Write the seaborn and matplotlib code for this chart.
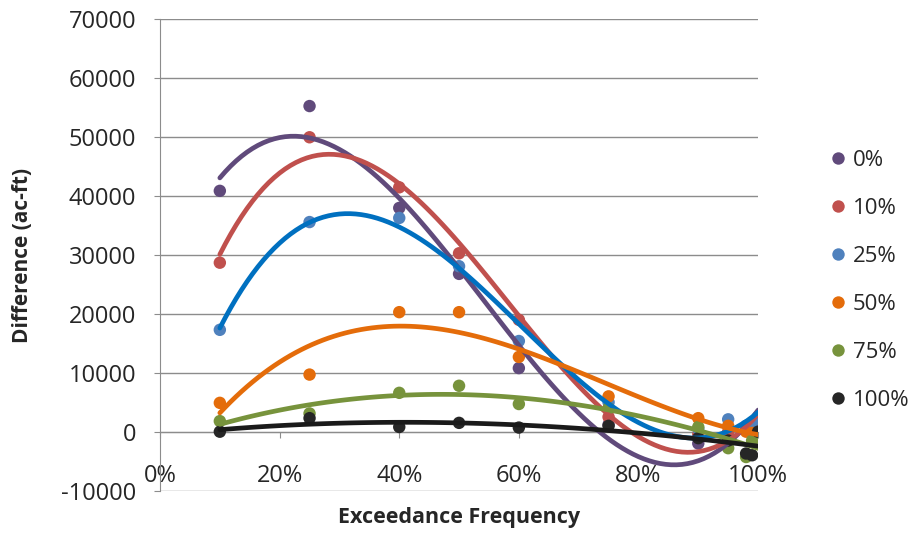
import numpy as np
import pandas as pd
import matplotlib
matplotlib.use("Agg")
import matplotlib.pyplot as plt
import seaborn as sns
from matplotlib.ticker import PercentFormatter, MultipleLocator

# ---- data ----
exceedance = [0.10, 0.25, 0.40, 0.50, 0.60, 0.75, 0.90, 0.95, 0.98, 0.99, 1.00]
series_names = ["0%", "10%", "25%", "50%", "75%", "100%"]
diff_0 = [40900, 55300, 38000, 26800, 10800, 1200, -2000, -1000, 500, 1000, 2500]
diff_10 = [28700, 50000, 41500, 30300, 19000, 2500, -500, 0, 500, 800, 1500]
diff_25 = [17300, 35600, 36300, 28100, 15400, 5000, 500, 2100, 1000, 1500, 2500]
diff_50 = [4900, 9700, 20300, 20300, 12700, 6000, 2300, 1000, 0, -200, -500]
diff_75 = [1800, 3100, 6600, 7800, 4700, 4000, 800, -2800, -4300, -1500, -1000]
diff_100 = [0, 2300, 800, 1500, 700, 1000, -1100, -1500, -3700, -4000, 0]
y_ticks = list(range(-10000, 70001, 10000))

point_colors = ["#604A7B", "#C0504D", "#4F81BD", "#E46C0A", "#77933C", "#262626"]
line_colors = ["#604A7B", "#C0504D", "#0070C0", "#E46C0A", "#77933C", "#1A1A1A"]

all_series = [diff_0, diff_10, diff_25, diff_50, diff_75, diff_100]
df = pd.concat(
    [pd.DataFrame({"x": exceedance, "y": vals, "series": name})
     for name, vals in zip(series_names, all_series)],
    ignore_index=True,
)

sns.set_style("white")
plt.rcParams["font.family"] = ["Open Sans", "DejaVu Sans"]
plt.rcParams["axes.unicode_minus"] = False

fig = plt.figure(figsize=(9.15, 5.34), dpi=100)
ax = fig.add_axes([0.1749, 0.0813, 0.6536, 0.8822])

sns.scatterplot(data=df, x="x", y="y", hue="series", hue_order=series_names,
                palette=point_colors, s=80, edgecolor="none", ax=ax, zorder=3)

for name, lc in zip(series_names, line_colors):
    sub = df[df["series"] == name]
    sns.regplot(data=sub, x="x", y="y", order=3, scatter=False, ci=None,
                truncate=True, color=lc, line_kws=dict(lw=3.4, zorder=4),
                ax=ax)

ax.set_xlim(0, 1.0)
ax.set_ylim(-10000, 70000)
ax.set_yticks(y_ticks)
ax.xaxis.set_major_locator(MultipleLocator(0.2))
ax.xaxis.set_major_formatter(PercentFormatter(1.0, decimals=0))
ax.grid(axis="y", color="#8C8C8C", lw=1.0)
ax.grid(axis="x", visible=False)
ax.set_axisbelow(True)

for side in ["top", "right"]:
    ax.spines[side].set_visible(False)
ax.spines["left"].set_color("#8C8C8C")
ax.spines["bottom"].set_color("#8C8C8C")
ax.spines["bottom"].set_position(("data", 0))
ax.tick_params(axis="y", direction="out", length=4, color="#8C8C8C",
               labelsize=17, pad=13, left=True)
ax.tick_params(axis="x", direction="out", length=4, color="#8C8C8C",
               labelsize=17, pad=19, bottom=True)

ax.set_xlabel("Exceedance Frequency", fontsize=15.5, fontweight="bold")
ax.set_ylabel("Difference (ac-ft)", fontsize=15, fontweight="bold")
ax.xaxis.set_label_coords(0.5, -0.035)
ax.yaxis.set_label_coords(-0.212, 0.5)

handles, labels = ax.get_legend_handles_labels()
ax.legend(handles, labels, loc="center left", bbox_to_anchor=(0.882, 0.475),
          bbox_transform=fig.transFigure, frameon=False, fontsize=16,
          labelspacing=1.22, handletextpad=0.15, handlelength=1.0,
          markerscale=1.0)

fig.savefig("out.png", dpi=100)
